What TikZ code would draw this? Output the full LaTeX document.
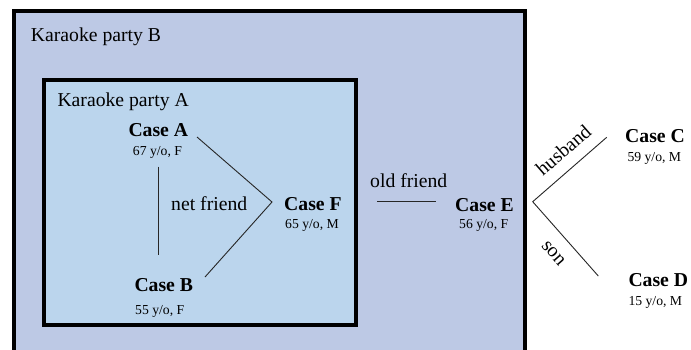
\documentclass[tikz,border=0pt]{standalone}
\usepackage{fontspec}
\setmainfont{Liberation Serif}
\definecolor{partyB}{RGB}{189,201,229}
\definecolor{partyA}{RGB}{187,213,237}
\tikzset{
  big/.style={font=\fontsize{19.7}{22}\selectfont, inner sep=0pt},
  casename/.style={font=\fontsize{19.7}{22}\selectfont\bfseries, inner sep=0pt, anchor=base west},
  caseinfo/.style={font=\fontsize{13.7}{16}\selectfont, inner sep=0pt, anchor=base west},
  link/.style={line width=0.9pt, black!85},
  frame/.style={line width=4pt, black},
}
\begin{document}
\begin{tikzpicture}[x=1pt,y=-1pt]
\useasboundingbox (0,0) rectangle (691,349);
\fill[white] (0,0) rectangle (691,349);
\begin{scope}
\clip (0,0) rectangle (691,349);
% outer party frame (runs past the lower edge)
\draw[frame, fill=partyB] (14,11) rectangle (524.5,370);
% inner party frame
\draw[frame, fill=partyA] (44,79.5) rectangle (356,325);
\end{scope}

\node[big, anchor=base west] (labB) at (30.7,41.7) {Karaoke party B};
\node[big, anchor=base west] (labA) at (57.3,106.5) {Karaoke party A};

% cases
\node[casename] (caseA) at (128.3,136.7) {Case A};
\node[caseinfo] (infoA) at (132.7,155) {67 y/o, F};
\node[casename] (caseB) at (134.3,291.7) {Case B};
\node[caseinfo] (infoB) at (135,314) {55 y/o, F};
\node[casename] (caseF) at (284,210.7) {Case F};
\node[caseinfo] (infoF) at (285,228.3) {65 y/o, M};
\node[casename] (caseE) at (455,211.7) {Case E};
\node[caseinfo] (infoE) at (459,228.3) {56 y/o, F};
\node[casename] (caseC) at (625,142.7) {Case C};
\node[caseinfo] (infoC) at (627.3,161.7) {59 y/o, M};
\node[casename] (caseD) at (628.3,286.7) {Case D};
\node[caseinfo] (infoD) at (628.3,305) {15 y/o, M};

% relation labels
\node[big, anchor=base west] (netf) at (171,210.7) {net friend};
\node[big, anchor=base west] (oldf) at (370,187.3) {old friend};
\node[big, rotate=41] (husb) at (563.3,150) {husband};
\node[big, rotate=-48.6] (sonl) at (553.3,253.3) {son};

% connector end points
\coordinate (aTop) at (158,166.7);
\coordinate (bTop) at (158,255);
\coordinate (aOut) at (197,137);
\coordinate (fApex) at (272,202);
\coordinate (bOut) at (205,277);
\coordinate (oldL) at (377.3,201);
\coordinate (oldR) at (435.7,201);
\coordinate (eApex) at (532.7,201.7);
\coordinate (cEnd) at (606.7,137.3);
\coordinate (dEnd) at (598.3,276);

\draw[link] (aTop) -- (bTop);
\draw[link] (aOut) -- (fApex) -- (bOut);
\draw[link] (oldL) -- (oldR);
\draw[link] (cEnd) -- (eApex) -- (dEnd);
\end{tikzpicture}
\end{document}
